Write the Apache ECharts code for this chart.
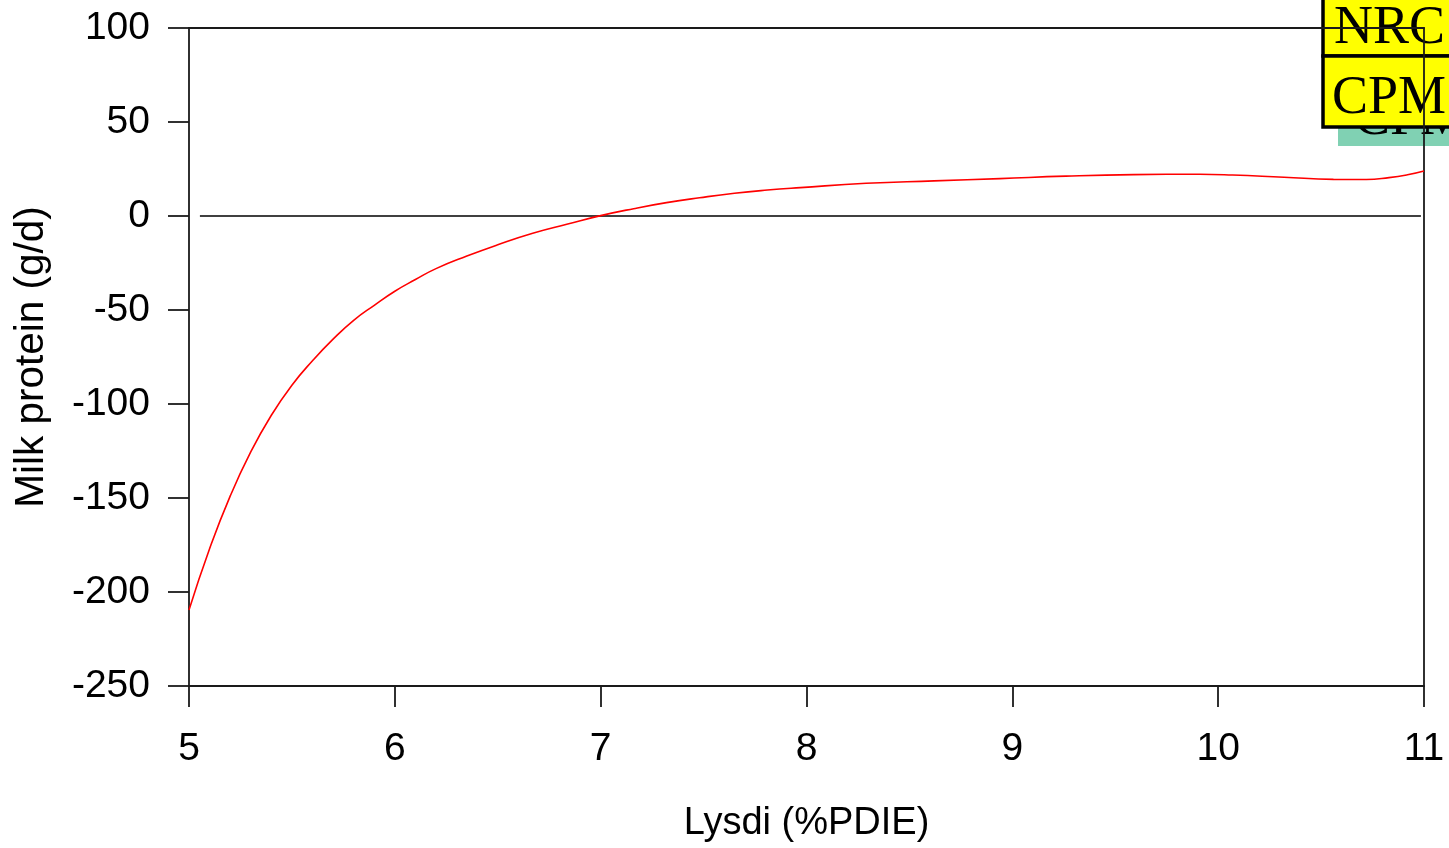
<!DOCTYPE html>
<html>
<head>
<meta charset="utf-8">
<style>
  html, body { margin: 0; padding: 0; background: #ffffff; }
  #chart { width: 1449px; height: 848px; }
</style>
<script src="https://cdn.jsdelivr.net/npm/echarts@6/dist/echarts.min.js"></script>
</head>
<body>
<div id="chart"></div>
<script>
// Response of milk protein (g/d) to digestible lysine (% of PDIE)
const lysdi = [5.0, 5.1, 5.2, 5.3, 5.4, 5.5, 5.6, 5.7, 5.8, 5.9, 6.0, 6.1, 6.2, 6.35, 6.5, 6.67, 6.84,
               7.0, 7.16, 7.32, 7.48, 7.65, 7.81, 7.97, 8.29, 8.62, 8.94, 9.26, 9.59, 9.91,
               10.07, 10.32, 10.56, 10.72, 10.83, 10.92, 11.0];
const milkProtein = [-209.6, -177, -149, -125.5, -106, -90, -77, -65.5, -55.5, -47.5, -40, -33.8, -28, -21.3, -15.3, -9.2, -4.3,
                     0.2, 3.9, 7.1, 9.7, 12.1, 13.8, 15.1, 17.4, 18.7, 19.9, 21.2, 22.0, 22.2,
                     21.8, 20.6, 19.5, 19.4, 20.4, 21.9, 23.9];
// Horizontal reference line at zero
const zeroLineX = [5.053, 10.985];
const zeroLineY = [0, 0];
// Axis ticks
const xTicks = { min: 5, max: 11, step: 1 };
const yTicks = { min: -250, max: 100, step: 50 };
// Stacked key labels in the corner
const keyLabels = ['NRC', 'CPM'];
const hiddenLabel = 'CPM';

const curve = lysdi.map((x, i) => [x, milkProtein[i]]);
const zeroLine = zeroLineX.map((x, i) => [x, zeroLineY[i]]);

const axisColor = '#1a1a1a';
const font = '"Liberation Sans", Arial, sans-serif';
const serif = '"Liberation Serif", "Times New Roman", serif';

const chart = echarts.init(document.getElementById('chart'), null, { renderer: 'canvas' });

chart.setOption({
  backgroundColor: '#ffffff',
  animation: false,
  grid: { left: 189, right: 25, top: 28, bottom: 162, containLabel: false },
  xAxis: [
    {
      type: 'value',
      position: 'bottom',
      min: xTicks.min, max: xTicks.max, interval: xTicks.step,
      name: 'Lysdi (%PDIE)',
      nameLocation: 'middle',
      nameGap: 119,
      nameTextStyle: { fontFamily: font, fontSize: 38, color: '#000' },
      axisLine: { show: true, onZero: false, lineStyle: { color: axisColor, width: 1.8 } },
      axisTick: { show: true, inside: false, length: 21, lineStyle: { color: axisColor, width: 1.8 } },
      axisLabel: { margin: 44, fontFamily: font, fontSize: 39, color: '#000' },
      splitLine: { show: false }
    },
    {
      type: 'value',
      position: 'top',
      min: xTicks.min, max: xTicks.max,
      axisLine: { show: true, onZero: false, lineStyle: { color: axisColor, width: 1.8 } },
      axisTick: { show: false },
      axisLabel: { show: false },
      splitLine: { show: false }
    }
  ],
  yAxis: [
    {
      type: 'value',
      position: 'left',
      min: yTicks.min, max: yTicks.max, interval: yTicks.step,
      name: 'Milk protein (g/d)',
      nameLocation: 'middle',
      nameGap: 137,
      nameRotate: 90,
      nameTextStyle: { fontFamily: font, fontSize: 40.5, color: '#000' },
      axisLine: { show: true, onZero: false, lineStyle: { color: axisColor, width: 1.8 } },
      axisTick: { show: true, inside: false, length: 21, lineStyle: { color: axisColor, width: 1.8 } },
      axisLabel: { margin: 39, fontFamily: font, fontSize: 39, color: '#000' },
      splitLine: { show: false }
    },
    {
      type: 'value',
      position: 'right',
      min: yTicks.min, max: yTicks.max,
      axisLine: { show: true, onZero: false, lineStyle: { color: axisColor, width: 1.8 } },
      axisTick: { show: false },
      axisLabel: { show: false },
      splitLine: { show: false }
    }
  ],
  series: [
    {
      type: 'line',
      data: zeroLine,
      showSymbol: false,
      silent: true,
      lineStyle: { color: '#000000', width: 1.6 }
    },
    {
      type: 'line',
      data: curve,
      smooth: 0.5,
      showSymbol: false,
      lineStyle: { color: '#ff0000', width: 1.6 }
    }
  ],
  graphic: [
    {
      type: 'group',
      z: 100,
      children: [
        { type: 'rect', shape: { x: 1338, y: 90, width: 120, height: 56 }, style: { fill: '#80d1b3' } },
        { type: 'text', x: 1354, y: 147, style: { text: hiddenLabel, font: '54px ' + serif, fill: '#000', verticalAlign: 'bottom', textVerticalAlign: 'bottom' } },
        { type: 'rect', shape: { x: 1323, y: -5, width: 140, height: 61 }, style: { fill: '#ffff00', stroke: '#000', lineWidth: 3.5 } },
        { type: 'text', x: 1334, y: 29, style: { text: keyLabels[0], font: '54px ' + serif, fill: '#000', verticalAlign: 'middle', textVerticalAlign: 'middle' } },
        { type: 'rect', shape: { x: 1323, y: 56, width: 140, height: 71 }, style: { fill: '#ffff00', stroke: '#000', lineWidth: 3.5 } },
        { type: 'text', x: 1332, y: 99, style: { text: keyLabels[1], font: '54px ' + serif, fill: '#000', verticalAlign: 'middle', textVerticalAlign: 'middle' } }
      ]
    }
  ]
});
</script>
</body>
</html>
